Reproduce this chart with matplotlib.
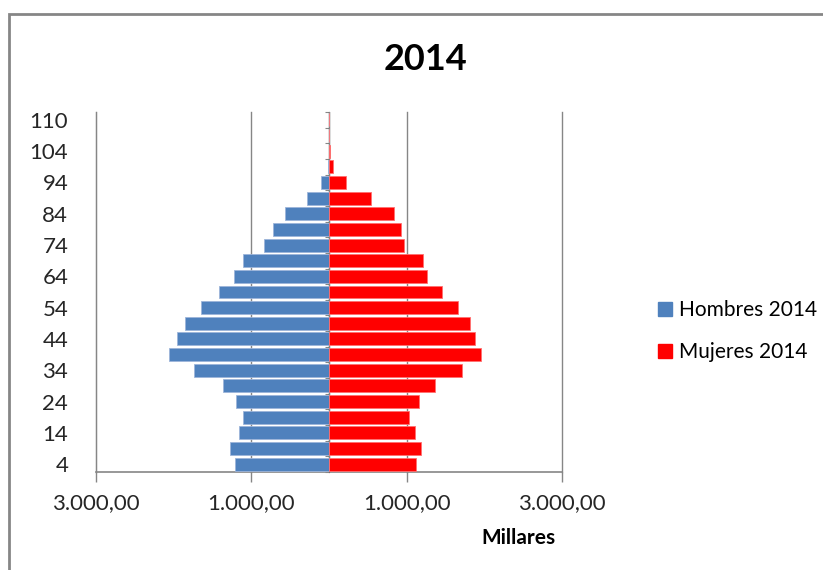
import matplotlib
matplotlib.use("Agg")
import matplotlib.pyplot as plt
from matplotlib.patches import Rectangle, Patch
import numpy as np

plt.rcParams['font.family'] = ['Lato', 'DejaVu Sans']

# grupos de edad (edad superior de cada grupo)
edades = [4, 9, 14, 19, 24, 29, 34, 39, 44, 49, 54, 59, 64, 69, 74, 79, 84, 89, 94, 99, 104, 109, 110]
# poblacion en miles
hombres = [1204, 1272, 1161, 1105, 1200, 1371, 1740, 2065, 1962, 1851, 1654, 1414,
           1217, 1105, 835, 720, 565, 283, 99, 15, 2, 0.3, 0.1]
mujeres = [1114, 1183, 1101, 1028, 1157, 1367, 1710, 1962, 1877, 1821, 1662, 1452,
           1268, 1212, 960, 930, 832, 536, 218, 55, 10, 6, 5]
etiquetas = [str(e) if i % 2 == 0 else '' for i, e in enumerate(edades)]
xticks = [-3000, -1000, 1000, 3000]
xlabels = ['3.000,00', '1.000,00', '1.000,00', '3.000,00']

azul = '#4F81BD'
rojo = '#FF0000'
gris = '#868686'

fig = plt.figure(figsize=(8.23, 5.70), dpi=100)
ax = fig.add_axes([96/823, 1 - 472/570, (562 - 96)/823, (472 - 112)/570])

y = np.arange(len(edades))
ax.barh(y, -np.array(hombres), height=0.83, color=azul, edgecolor='#9DB5DA', linewidth=0.6,
        label='Hombres 2014', zorder=3)
ax.barh(y, mujeres, height=0.83, color=rojo, edgecolor='#FF7070', linewidth=0.6,
        label='Mujeres 2014', zorder=3)

ax.set_xlim(-3000, 3000)
ax.set_ylim(-0.5, len(edades) - 0.5)
ax.set_xticks(xticks)
ax.set_xticklabels(xlabels, fontsize=16, color='#262626')
ax.set_yticks(y)
ax.set_yticklabels(etiquetas, fontsize=16, color='#262626')
ax.tick_params(axis='y', length=0, pad=20)
ax.tick_params(axis='x', length=7, width=1, color=gris, pad=8)
ax.grid(axis='x', color=gris, linewidth=1, zorder=0)
for g in ax.get_xgridlines():
    g.set_clip_on(False)

for s in ['top', 'right']:
    ax.spines[s].set_visible(False)
ax.spines['left'].set_color(gris)
ax.spines['bottom'].set_color(gris)
ax.spines['bottom'].set_linewidth(1.2)

# eje vertical en el cero con marcas entre grupos
eje0 = ax.secondary_yaxis(0.5)
eje0.set_yticks(np.arange(len(edades) + 1) - 0.5)
eje0.set_yticklabels([])
eje0.tick_params(direction='in', length=3, color=gris)
eje0.spines['left'].set_color(gris)
ax.axvline(0, color=gris, linewidth=1, zorder=2)

fig.text(425/823, 1 - 60/570, '2014', ha='center', va='center', fontsize=26, fontweight='bold')
fig.text(518/823, 1 - 538/570, 'Millares', ha='center', va='center', fontsize=15, fontweight='bold')

handles = [Patch(color=azul), Patch(color=rojo)]
fig.legend(handles, ['Hombres 2014', 'Mujeres 2014'], loc='center left',
           bbox_to_anchor=(654/823, 1 - 331/570), frameon=False, fontsize=15,
           handlelength=0.65, handleheight=0.65, handletextpad=0.35, labelspacing=1.05,
           borderpad=0.2, borderaxespad=0)

fig.patches.append(Rectangle((9/823, -0.1), 1.2, 1.1 - 14/570, transform=fig.transFigure,
                             fill=False, edgecolor=gris, linewidth=2))

fig.savefig('out.png', dpi=100)
